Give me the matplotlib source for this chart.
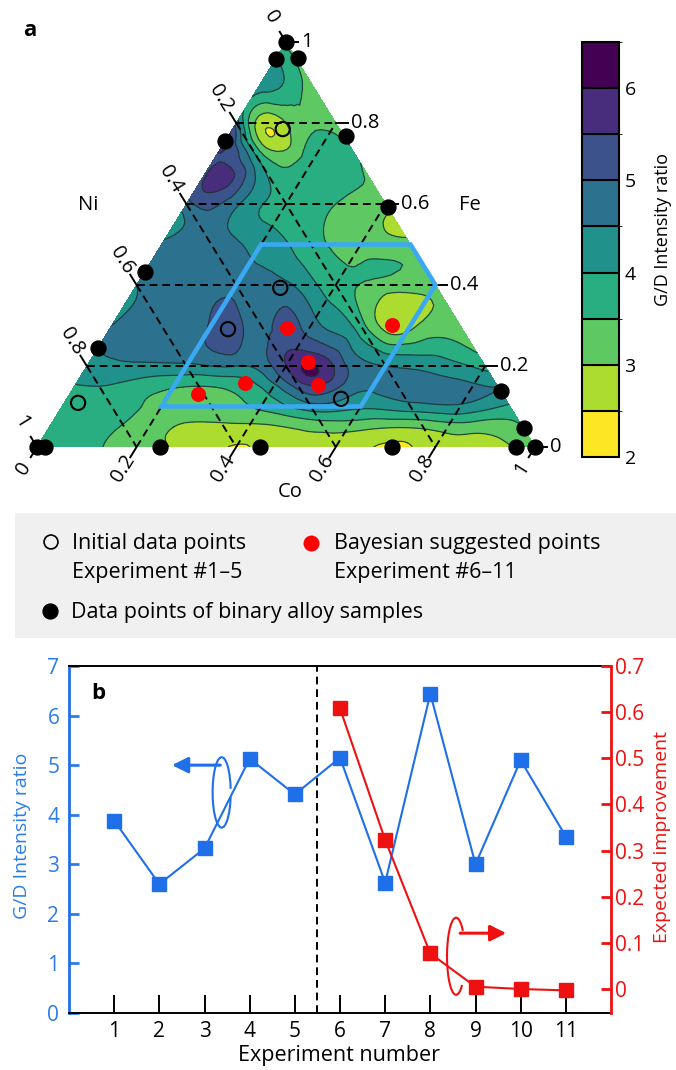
import numpy as np
import matplotlib

matplotlib.use("Agg")
import matplotlib.pyplot as plt
import matplotlib.tri as mtri
from matplotlib.colors import ListedColormap, BoundaryNorm
from matplotlib.cm import ScalarMappable
from matplotlib.patches import Arc, Polygon

plt.rcParams["font.family"] = ["Open Sans", "DejaVu Sans"]

# ---------------- panel a data (ternary: Co bottom, Fe right, Ni left) ----------------
GRID_STEP = 0.1
# G/D ratio, one row per Fe level (0.0 .. 1.0), Co = 0 .. 1-Fe
GRID_ROWS = [
    [3.7, 3.6, 3.2, 2.9, 2.46, 2.9, 2.8, 2.42, 2.75, 2.75, 3.4],
    [3.8, 3.8, 3.3, 3.2, 3.6, 4.3, 4.1, 4.3, 4.4, 3.9],
    [4.3, 4.4, 4.4, 4.5, 5.5, 5.4, 4.5, 4.3, 3.8],
    [4.5, 4.7, 5.1, 4.8, 4.7, 3.7, 2.85, 3.2],
    [4.5, 4.75, 4.8, 4.6, 3.7, 3.3, 3.2],
    [4.55, 4.8, 4.3, 3.7, 3.3, 3.2],
    [4.8, 4.6, 3.8, 3.5, 3.2],
    [5.4, 4.0, 3.75, 3.5],
    [4.8, 3.0, 3.3],
    [4.3, 3.2],
    [3.4],
]
# extra readings between grid nodes
extra_co = [0.05, 0.15, 0.25, 0.35, 0.45, 0.55, 0.65, 0.75, 0.85, 0.95,
            0.05, 0.15, 0.25, 0.35, 0.45, 0.55, 0.65, 0.75, 0.85,
            0.08, 0.02, 0.01, 0.03, 0.22, 0.35, 0.40, 0.46, 0.55, 0.44]
extra_fe = [0.05] * 10 + [0.15] * 9 + [0.78, 0.67, 0.74, 0.62, 0.30, 0.30, 0.25, 0.19,
                                       0.31, 0.56]
extra_val = [3.75, 3.45, 3.0, 2.9, 2.95, 3.2, 3.1, 3.1, 3.25, 3.5,
             4.0, 3.7, 3.5, 3.8, 5.2, 4.8, 4.7, 4.7, 4.5,
             2.45, 5.7, 5.5, 5.4, 5.35, 5.2, 5.4, 6.1, 2.65, 2.8]

initial_co = [0.101, 0.292, 0.238, 0.551, 0.028]
initial_fe = [0.785, 0.393, 0.291, 0.119, 0.109]
bayes_co = [0.355, 0.439, 0.488, 0.339, 0.258, 0.562]
bayes_fe = [0.294, 0.210, 0.153, 0.158, 0.131, 0.301]
binary_co = [0.0, 0.0, 0.044, 0.0, 0.236, 0.408, 0.0, 0.0, 0.0, 0.016,
             0.247, 0.448, 0.713, 0.962, 1.0, 0.954, 0.862]
binary_fe = [1.0, 0.958, 0.960, 0.756, 0.768, 0.593, 0.432, 0.244, 0.0, 0.0,
             0.0, 0.0, 0.0, 0.0, 0.0, 0.046, 0.138]
# searched region (Co, Fe corners)
region_co = [0.2, 0.5, 0.6, 0.6, 0.2]
region_fe = [0.5, 0.5, 0.4, 0.1, 0.1]

LEVELS = np.arange(2.0, 7.0, 0.5)
TICKS = [0, 0.2, 0.4, 0.6, 0.8, 1.0]
TICK_LABELS = ["0", "0.2", "0.4", "0.6", "0.8", "1"]

# ---------------- panel b data ----------------
experiment = list(range(1, 12))
gd_ratio = [3.88, 2.60, 3.32, 5.13, 4.41, 5.15, 2.63, 6.44, 3.00, 5.10, 3.56]
ei_experiment = [6, 7, 8, 9, 10, 11]
expected_improvement = [0.608, 0.323, 0.077, 0.005, 0.000, -0.003]

BLUE = "#1f6fe8"
BLUE_TXT = "#2a7de9"
RED = "#ee1111"
W, H = 676, 1070


def to_xy(co, fe):
    co = np.asarray(co, float)
    fe = np.asarray(fe, float)
    return co + fe / 2.0, fe


fig = plt.figure(figsize=(W / 100, H / 100), dpi=100)

# ternary axes: unit triangle mapped onto the pixel triangle
L, R, TOP, BOT = 37, 535, 42, 447
SX, SY = R - L, BOT - TOP
ax = fig.add_axes([L / W, 1 - BOT / H, SX / W, SY / H])
ax.set_xlim(0, 1)
ax.set_ylim(0, 1)
ax.axis("off")

pts_co, pts_fe, pts_v = [], [], []
for i, row in enumerate(GRID_ROWS):
    fe = round(i * GRID_STEP, 2)
    for j, v in enumerate(row):
        pts_co.append(round(j * GRID_STEP, 2))
        pts_fe.append(fe)
        pts_v.append(v)
pts_co += extra_co
pts_fe += extra_fe
pts_v += extra_val
gx, gy = to_xy(pts_co, pts_fe)
triang = mtri.Triangulation(gx, gy)
refiner = mtri.UniformTriRefiner(triang)
tri_f, z_f = refiner.refine_field(np.array(pts_v), subdiv=3)
z_f = np.clip(z_f, 2.02, 6.48)

colors = plt.cm.viridis(np.linspace(0, 1, 9))[::-1]
cmap = ListedColormap(colors)
norm = BoundaryNorm(LEVELS, cmap.N)
ax.tricontourf(tri_f, z_f, levels=LEVELS, cmap=cmap, norm=norm, zorder=1)
ax.tricontour(tri_f, z_f, levels=LEVELS[1:-1], colors="#1c3530", linewidths=0.9,
              alpha=0.85, zorder=2)

# dashed grid
dash = dict(color="k", lw=1.4, ls=(0, (4, 2.5)), zorder=3)
for v in TICKS[1:-1]:
    x, y = to_xy([0, 1 - v], [v, v])
    ax.plot(x, y, **dash)
    x, y = to_xy([0, 1 - v], [1 - v, 0])
    ax.plot(x, y, **dash)
    x, y = to_xy([v, v], [0, 1 - v])
    ax.plot(x, y, **dash)

# ticks and tick labels
d_left = np.array([-0.524, 0.852])
d_bot = np.array([-0.524, -0.852])
tk = dict(color="k", lw=1.4, clip_on=False, zorder=3)
for v, lab in zip(TICKS, TICK_LABELS):
    # Ni (left side)
    x, y = to_xy(0, 1 - v)
    ax.plot([x, x + 12 * d_left[0] / SX], [y, y + 12 * d_left[1] / SY], **tk)
    ax.text(x + 29 * d_left[0] / SX, y + 29 * d_left[1] / SY, lab, rotation=-58,
            ha="center", va="center", fontsize=14.5)
    # Co (bottom)
    x, y = to_xy(v, 0)
    ax.plot([x, x + 12 * d_bot[0] / SX], [y, y + 12 * d_bot[1] / SY], **tk)
    ax.text(x + 25 * d_bot[0] / SX, y + 25 * d_bot[1] / SY, lab, rotation=58,
            ha="center", va="center", fontsize=14.5)
    # Fe (right side)
    x, y = to_xy(1 - v, v)
    ax.plot([x, x + 12 / SX], [y, y], **tk)
    ax.text(x + 15 / SX, y, lab, ha="left", va="center", fontsize=14.5)

ax.text(0.102, 0.598, "Ni", ha="center", va="center", fontsize=14.5)
ax.text(0.869, 0.598, "Fe", ha="center", va="center", fontsize=14.5)
ax.text(0.508, -0.111, "Co", ha="center", va="center", fontsize=14.5)

rx, ry = to_xy(region_co, region_fe)
ax.add_patch(Polygon(np.column_stack([rx, ry]), closed=True, fill=False,
                     edgecolor="#3ba9f2", lw=3.3, zorder=4))

bx, by = to_xy(binary_co, binary_fe)
ax.scatter(bx, by, s=115, c="k", zorder=6, clip_on=False)
ix, iy = to_xy(initial_co, initial_fe)
ax.scatter(ix, iy, s=105, facecolors="none", edgecolors="k", linewidths=1.5, zorder=6)
px_, py_ = to_xy(bayes_co, bayes_fe)
ax.scatter(px_, py_, s=95, c="red", zorder=6)

fig.text(30 / W, 1 - 31 / H, "a", fontsize=16, fontweight="bold", ha="center", va="center")

# colorbar
cax = fig.add_axes([582 / W, 1 - 457 / H, 37 / W, 415 / H])
cb = fig.colorbar(ScalarMappable(norm=norm, cmap=cmap), cax=cax, boundaries=LEVELS,
                  ticks=[2, 3, 4, 5, 6], drawedges=True)
cb.outline.set_linewidth(1.5)
cb.dividers.set_color("k")
cb.dividers.set_linewidth(1.5)
cax.tick_params(length=0, pad=4, labelsize=14)
fig.text(663 / W, 1 - 230 / H, "G/D Intensity ratio", rotation=90, ha="center",
         va="center", fontsize=13)

# legend box
lax = fig.add_axes([15 / W, 1 - 638 / H, (W - 15) / W, 125 / H])
lax.set_xlim(15, W)
lax.set_ylim(638, 513)
lax.set_facecolor("#f0f0f0")
for s in lax.spines.values():
    s.set_visible(False)
lax.set_xticks([])
lax.set_yticks([])
lax.scatter([51], [542], s=100, facecolors="none", edgecolors="k", linewidths=1.2)
lax.scatter([311], [543], s=110, c="red")
lax.scatter([50], [611], s=115, c="k")
lt = dict(fontsize=15.5, va="baseline", ha="left")
lax.text(72, 549, "Initial data points", **lt)
lax.text(72, 578, "Experiment #1\u20135", **lt)
lax.text(334, 549, "Bayesian suggested points", **lt)
lax.text(334, 578, "Experiment #6\u201311", **lt)
lax.text(71, 618, "Data points of binary alloy samples", **lt)

# ---------------- panel b ----------------
axb = fig.add_axes([69 / W, 1 - 1013 / H, 542 / W, 347 / H])
axb.plot(experiment, gd_ratio, "-s", color=BLUE, ms=10, lw=1.5, zorder=3)
axb.set_xlim(0, 12)
axb.set_ylim(0, 7)
axb.set_xticks(experiment)
axb.set_yticks(range(0, 8))
axb.axvline(5.5, color="k", lw=1.4, ls=(0, (4, 2.5)))
axb.tick_params(axis="y", direction="in", colors=BLUE_TXT, length=7, width=2,
                labelsize=15, pad=7)
axb.tick_params(axis="x", direction="in", length=13, width=1.4, labelsize=15, pad=6)
axb.spines["left"].set_color(BLUE)
axb.spines["left"].set_linewidth(2)
axb.spines["right"].set_visible(False)
axb.spines["top"].set_linewidth(1.4)
axb.spines["bottom"].set_linewidth(1.4)

axr = axb.twinx()
axr.plot(ei_experiment, expected_improvement, "-s", color=RED, ms=10, lw=1.5, zorder=3)
axr.set_ylim(-0.052, 0.7)
axr.set_yticks(np.arange(0, 0.71, 0.1))
axr.set_yticklabels(["0", "0.1", "0.2", "0.3", "0.4", "0.5", "0.6", "0.7"])
axr.tick_params(axis="y", direction="in", colors=RED, length=7, width=2,
                labelsize=15, pad=3)
for side in ("left", "top", "bottom"):
    axr.spines[side].set_visible(False)
axr.spines["right"].set_color(RED)
axr.spines["right"].set_linewidth(2)

# axis-pointer annotations
axb.annotate("", xy=(2.28, 5.0), xytext=(3.35, 5.0),
             arrowprops=dict(arrowstyle="-|>", color=BLUE, lw=2.2, mutation_scale=24,
                             shrinkA=0, shrinkB=0))
axb.add_patch(Arc((3.38, 4.45), 0.40, 1.42, theta1=20, theta2=335, color=BLUE, lw=1.5))
axr.annotate("", xy=(9.68, 0.121), xytext=(8.66, 0.121),
             arrowprops=dict(arrowstyle="-|>", color=RED, lw=2.2, mutation_scale=24,
                             shrinkA=0, shrinkB=0))
axr.add_patch(Arc((8.57, 0.071), 0.40, 0.167, theta1=20, theta2=335, color=RED, lw=1.5))

axb.text(0.66, 6.45, "b", fontsize=16, fontweight="bold", ha="center", va="center")

fig.text(339 / W, 1 - 1056 / H, "Experiment number", ha="center", va="center",
         fontsize=15.5)
fig.text(22 / W, 1 - 836 / H, "G/D Intensity ratio", rotation=90, ha="center",
         va="center", fontsize=14, color=BLUE_TXT)
fig.text(662 / W, 1 - 837 / H, "Expected improvement", rotation=90, ha="center",
         va="center", fontsize=14, color=RED)

fig.savefig("out.png", dpi=100)
